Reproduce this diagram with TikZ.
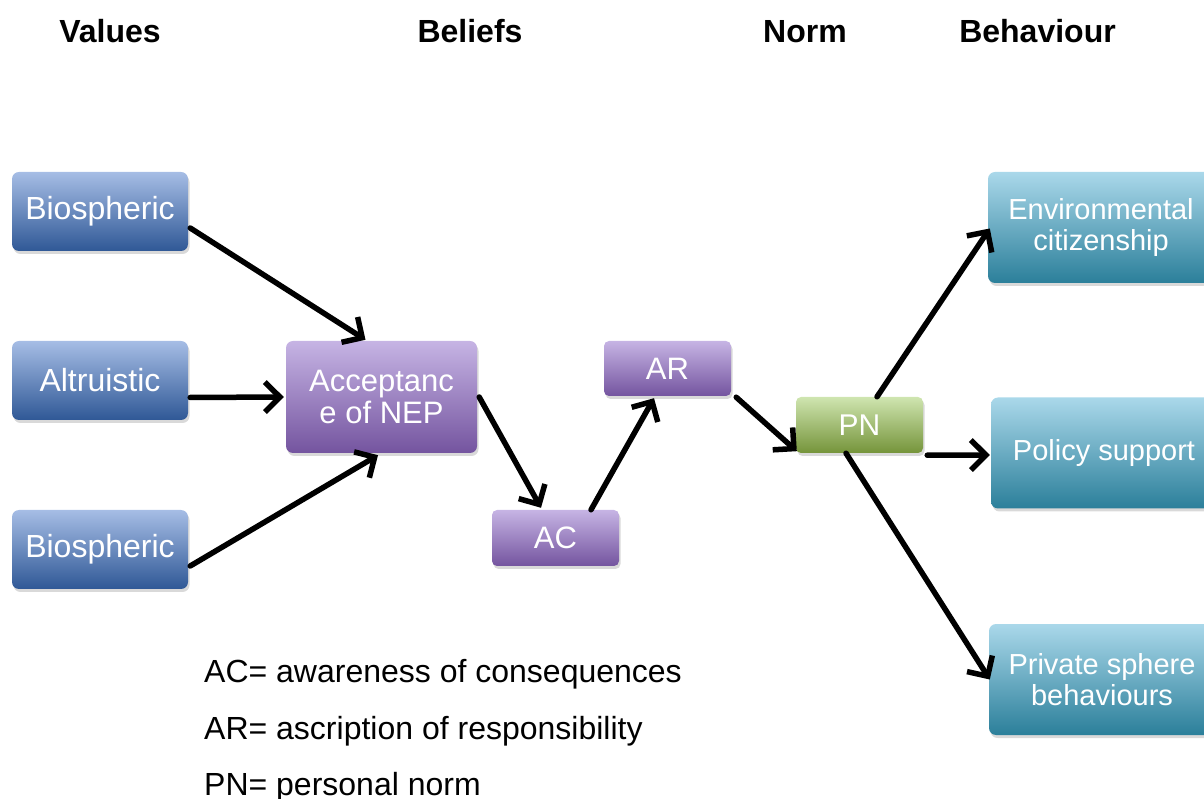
\documentclass[tikz,border=0pt]{standalone}
\usepackage{fontspec}
\setmainfont{Liberation Sans}
\usetikzlibrary{arrows.meta,shadows}

\definecolor{valtop}{HTML}{A6BDE5}
\definecolor{valbot}{HTML}{2F5896}
\definecolor{beltop}{HTML}{C6B4E4}
\definecolor{belbot}{HTML}{74549F}
\definecolor{nrmtop}{HTML}{CFE5B0}
\definecolor{nrmbot}{HTML}{75943A}
\definecolor{behtop}{HTML}{AAD8EA}
\definecolor{behbot}{HTML}{2B7F9A}

\begin{document}
\begin{tikzpicture}[x=1pt,y=1pt,
  box/.style={rounded corners=7pt, text=white, align=center, inner sep=0pt,
    font=\fontsize{31}{32}\selectfont,
    drop shadow={opacity=0.3, shadow xshift=1.5pt, shadow yshift=-3pt}},
  valbox/.style={box, top color=valtop, bottom color=valbot,
    font=\fontsize{32}{33}\selectfont,
    minimum width=176pt, minimum height=79pt},
  belbox/.style={box, top color=beltop, bottom color=belbot},
  nrmbox/.style={box, top color=nrmtop, bottom color=nrmbot,
    font=\fontsize{30}{32}\selectfont,
    minimum width=127pt, minimum height=56pt},
  behbox/.style={box, top color=behtop, bottom color=behbot,
    font=\fontsize{29}{31}\selectfont,
    minimum width=226pt, minimum height=111pt},
  head/.style={font=\fontsize{32}{34}\bfseries\selectfont, anchor=base},
  legend/.style={font=\fontsize{32}{34}\selectfont, anchor=base west, inner sep=0pt},
  arr/.style={line width=5.5pt, line cap=round,
    -{Straight Barb[length=15pt,width=30pt,line width=5.5pt]}}
]
\clip (0,0) rectangle (1204,798);
\useasboundingbox (0,0) rectangle (1204,798);

% column headings
\node[head] (hval) at (110,755) {Values};
\node[head] (hbel) at (470,755) {Beliefs};
\node[head] (hnrm) at (805,755) {Norm};
\node[head] (hbeh) at (1037.5,755) {Behaviour};

% values
\node[valbox] (bio1) at (100,586.5) {Biospheric};
\node[valbox] (alt)  at (100,417.5) {Altruistic};
\node[valbox] (bio2) at (100,248.5) {Biospheric};

% beliefs
\node[belbox, minimum width=191pt, minimum height=112pt] (acc) at (381.5,401)
  {Acceptanc\\e of NEP};
\node[belbox, rounded corners=5pt, minimum width=127pt, minimum height=56pt] (ac) at (555.5,260) {AC};
\node[belbox, rounded corners=5pt, minimum width=127pt, minimum height=55pt] (ar) at (667.5,429.5) {AR};

% norm
\node[nrmbox, rounded corners=5pt] (pn) at (859.5,373) {PN};

% behaviour
\node[behbox] (env)  at (1101,570.5) {Environmental\\citizenship};
\node[behbox] (pol)  at (1104,345) {Policy support};
\node[behbox] (priv) at (1102,118.5) {Private sphere\\behaviours};

% connectors
\draw[arr] ([shift={(2,-16.5)}]bio1.east) -- ([shift={(-16,1)}]acc.north);
\draw[arr] ([shift={(2,-17)}]alt.east) -- ([shift={(-2,0)}]acc.west);
\draw[arr] ([shift={(2,-16.5)}]bio2.east) -- ([shift={(-3.5,-2)}]acc.south);
\draw[arr] ([shift={(2,0)}]acc.east) -- ([shift={(-14.5,2)}]ac.north);
\draw[arr] ([shift={(35.5,0)}]ac.north) -- ([shift={(-13.5,-2)}]ar.south);
\draw[arr] ([shift={(5,-1)}]ar.south east) -- ([shift={(1,2)}]pn.south west);
\draw[arr] ([shift={(17.5,0)}]pn.north) -- ([shift={(2,-1)}]env.west);
\draw[arr] ([shift={(4,-2)}]pn.south east) -- ([shift={(-1,-2)}]pol.west);
\draw[arr] ([shift={(-13.5,0)}]pn.south) -- ([shift={(1,0)}]priv.west);

% legend
\node[legend] (lac) at (204,116) {AC= awareness of consequences};
\node[legend] (lar) at (204,59) {AR= ascription of responsibility};
\node[legend] (lpn) at (204,3) {PN= personal norm};
\end{tikzpicture}
\end{document}
